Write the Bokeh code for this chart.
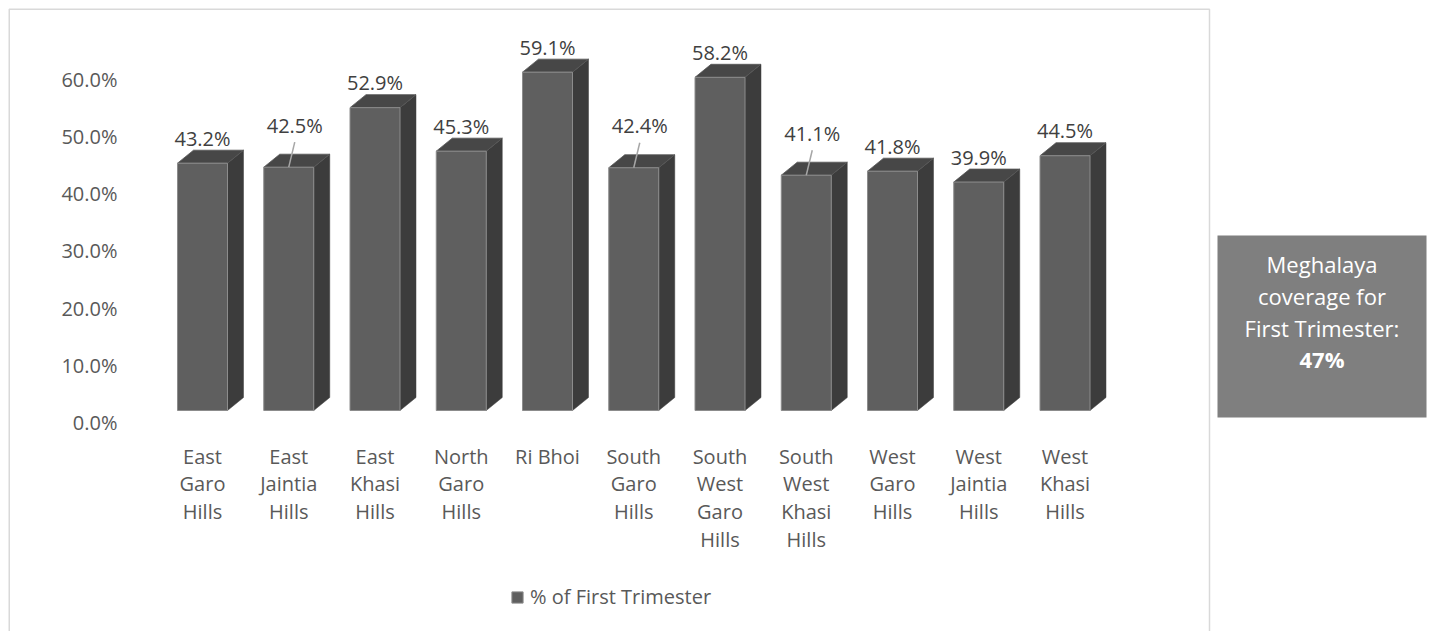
from bokeh.plotting import figure
from bokeh.models import (Range1d, LinearAxis, FixedTicker, NumeralTickFormatter,
                          Legend, LegendItem)
from bokeh.core.properties import value
from bokeh.embed import file_html
from bokeh.resources import INLINE

# ---------------- data ----------------
districts = ["East Garo Hills", "East Jaintia Hills", "East Khasi Hills",
             "North Garo Hills", "Ri Bhoi", "South Garo Hills",
             "South West Garo Hills", "South West Khasi Hills",
             "West Garo Hills", "West Jaintia Hills", "West Khasi Hills"]
tick_labels = ["East\nGaro\nHills", "East\nJaintia\nHills", "East\nKhasi\nHills",
               "North\nGaro\nHills", "Ri Bhoi", "South\nGaro\nHills",
               "South\nWest\nGaro\nHills", "South\nWest\nKhasi\nHills",
               "West\nGaro\nHills", "West\nJaintia\nHills", "West\nKhasi\nHills"]
first_trimester = [0.432, 0.425, 0.529, 0.453, 0.591, 0.424, 0.582,
                   0.411, 0.418, 0.399, 0.445]
value_labels = ["43.2%", "42.5%", "52.9%", "45.3%", "59.1%", "42.4%",
                "58.2%", "41.1%", "41.8%", "39.9%", "44.5%"]
leader_districts = ["East Jaintia Hills", "South Garo Hills", "South West Khasi Hills"]
y_ticks = [0.0, 0.1, 0.2, 0.3, 0.4, 0.5, 0.6]
series_name = "% of First Trimester"
note_lines = ["Meghalaya", "coverage for", "First Trimester:"]
state_coverage = "47%"

# ---------------- layout constants (pixels) ----------------
W, H = 1434, 631
PXX = 86.25      # px per category
X0 = 202         # canvas x of first category
PXY = 572.5      # px per unit (100%)
BASE = 410       # canvas y of bar base (front face)
AX0 = 422        # canvas y of axis 0%
HW = 25 / PXX    # half width of front face
DX = 16 / PXX    # depth offset x
DY = 13 / PXY    # depth offset y
FONT = value("Open Sans")

p = figure(width=W, height=H, x_range=Range1d(0, W), y_range=Range1d(H, 0),
           x_axis_type=None, y_axis_type=None, output_backend="svg",
           toolbar_location=None, min_border=0, outline_line_color=None,
           background_fill_color="white", border_fill_color="white")
p.extra_x_ranges = {"cat": Range1d(-X0 / PXX, (W - X0) / PXX)}
p.extra_y_ranges = {"bar": Range1d((BASE - H) / PXY, BASE / PXY),
                    "axis": Range1d((AX0 - H) / PXY, AX0 / PXY)}

# chart-area border
p.quad(left=[8.75], right=[1209], top=[8.75], bottom=[H + 20], fill_color=None,
       line_color="#d9d9d9", line_width=1.5)

xs = list(range(len(districts)))
n = len(xs)

# 3D bars
side_xs = [[i + HW, i + HW + DX, i + HW + DX, i + HW] for i in xs]
side_ys = [[0, DY, v + DY, v] for v in first_trimester]
top_xs = [[i - HW, i - HW + DX, i + HW + DX, i + HW] for i in xs]
top_ys = [[v, v + DY, v + DY, v] for v in first_trimester]
p.patches(xs=side_xs, ys=side_ys, x_range_name="cat", y_range_name="bar",
          fill_color="#3c3c3c", line_color="#3c3c3c", line_width=0.5)
p.patches(xs=top_xs, ys=top_ys, x_range_name="cat", y_range_name="bar",
          fill_color="#474747", line_color="#555555", line_width=0.8)
front = p.quad(left=[i - HW for i in xs], right=[i + HW for i in xs],
               bottom=[0] * n, top=first_trimester,
               x_range_name="cat", y_range_name="bar",
               fill_color="#5f5f5f", line_color="#8c8c8c", line_width=1)

# data labels (some with leader lines)
lab_x, lab_y = [], []
for i, d, v in zip(xs, districts, first_trimester):
    if d in leader_districts:
        lab_x.append(i + 6 / PXX)
        lab_y.append(v + 42 / PXY)
        p.segment(x0=[i + 6 / PXX], y0=[v + 25 / PXY], x1=[i], y1=[v],
                  x_range_name="cat", y_range_name="bar",
                  line_color="#a6a6a6", line_width=1.5)
    else:
        lab_x.append(i)
        lab_y.append(v + 25 / PXY)
p.text(x=lab_x, y=lab_y, text=value_labels, x_range_name="cat", y_range_name="bar",
       text_align="center", text_baseline="middle", text_font=FONT,
       text_font_size="20px", text_color="#404040")

# y axis
yax = LinearAxis(y_range_name="axis", fixed_location=133,
                 ticker=FixedTicker(ticks=y_ticks),
                 formatter=NumeralTickFormatter(format="0.0%"),
                 axis_line_color=None, major_tick_line_color=None,
                 minor_tick_line_color=None, major_label_standoff=10,
                 major_label_text_font="Open Sans",
                 major_label_text_font_size="20px",
                 major_label_text_color="#595959")
p.add_layout(yax, "left")

# x axis
xax = LinearAxis(x_range_name="cat", fixed_location=BASE,
                 ticker=FixedTicker(ticks=xs),
                 major_label_overrides={i: t for i, t in zip(xs, tick_labels)},
                 axis_line_color=None, major_tick_line_color=None,
                 minor_tick_line_color=None, major_label_standoff=26,
                 major_label_text_font="Open Sans",
                 major_label_text_font_size="20px",
                 major_label_text_line_height=1.03,
                 major_label_text_color="#595959")
p.add_layout(xax, "below")

# legend
legend = Legend(items=[LegendItem(label=series_name, renderers=[front])],
                location=(510, 21), orientation="horizontal",
                border_line_color=None, background_fill_alpha=0,
                padding=0, margin=0, glyph_width=14, glyph_height=14,
                label_standoff=6, label_text_font="Open Sans",
                label_text_font_size="20px", label_text_color="#595959")
p.add_layout(legend)

# side note box
p.quad(left=[1217], right=[1426], top=[235], bottom=[417],
       fill_color="#7f7f7f", line_color=None)
p.text(x=[1321.5] * 3, y=[263, 295, 327], text=note_lines,
       text_align="center", text_baseline="middle", text_font=FONT,
       text_font_size="22px", text_color="white")
p.text(x=[1321.5], y=[358], text=[state_coverage],
       text_align="center", text_baseline="middle", text_font=FONT,
       text_font_size="22px", text_font_style="bold", text_color="white")

open("out.html", "w").write(file_html(p, INLINE))
